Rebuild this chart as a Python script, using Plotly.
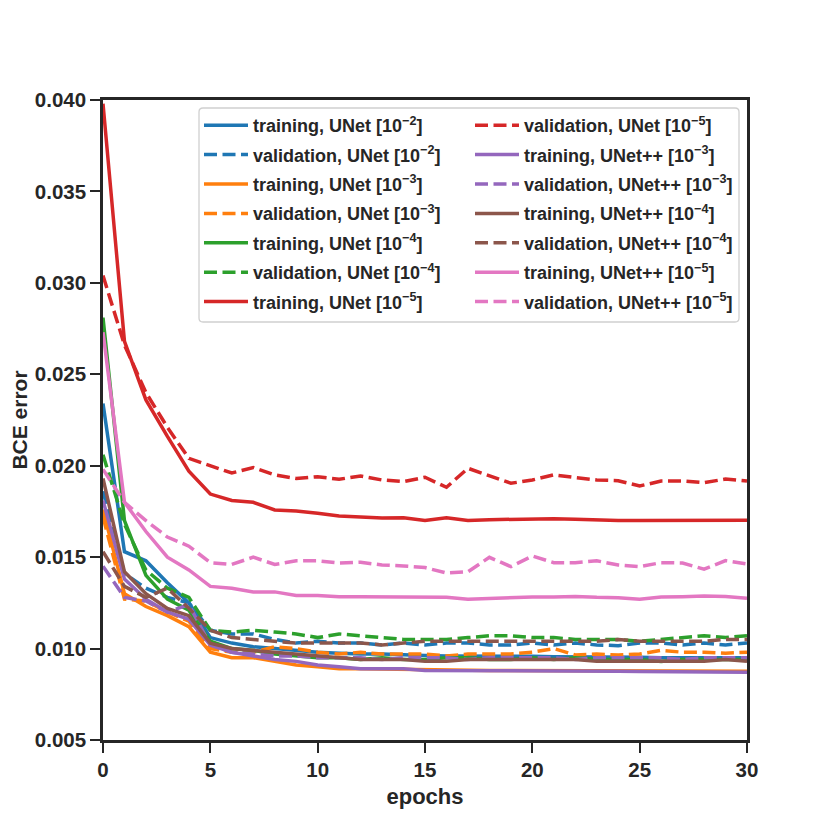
import plotly.graph_objects as go

epochs = list(range(31))

unet_e2_train = [0.0234, 0.0153, 0.0148, 0.0136, 0.0125, 0.0106, 0.0103, 0.0101, 0.0100, 0.0099, 0.0098,
                 0.00975, 0.0097, 0.0097, 0.00965, 0.00962, 0.0096, 0.0096, 0.0096, 0.00958, 0.00958,
                 0.00955, 0.00955, 0.00955, 0.00953, 0.00952, 0.0095, 0.0095, 0.0095, 0.0095, 0.0095]
unet_e2_val = [0.0186, 0.0141, 0.0133, 0.0128, 0.0125, 0.0110, 0.0108, 0.0108, 0.0105, 0.0103, 0.0104,
               0.0103, 0.0103, 0.0102, 0.0103, 0.0102, 0.0103, 0.0103, 0.0102, 0.0102, 0.0103,
               0.0102, 0.0103, 0.0102, 0.01016, 0.0103, 0.0103, 0.0102, 0.0103, 0.0102, 0.0103]
unet_e3_train = [0.0176, 0.0130, 0.0123, 0.0118, 0.0112, 0.0098, 0.0095, 0.0095, 0.0093, 0.0091, 0.0090,
                 0.0089, 0.0089, 0.00888, 0.00885, 0.00885, 0.00882, 0.0088, 0.0088, 0.0088, 0.0088,
                 0.0088, 0.0088, 0.00878, 0.00878, 0.00878, 0.00878, 0.00876, 0.00876, 0.00876, 0.00876]
unet_e3_val = [0.0172, 0.0127, 0.0126, 0.0120, 0.0115, 0.0100, 0.0098, 0.0098, 0.0101, 0.0100, 0.0098,
               0.0097, 0.0098, 0.0097, 0.0097, 0.0097, 0.0096, 0.0097, 0.0097, 0.0097, 0.0098,
               0.0100, 0.00965, 0.0097, 0.00965, 0.0097, 0.0099, 0.0098, 0.0098, 0.00975, 0.0098]
unet_e4_train = [0.0281, 0.0170, 0.0140, 0.0127, 0.0121, 0.0104, 0.0100, 0.0099, 0.0097, 0.0096, 0.0095,
                 0.0095, 0.0094, 0.0095, 0.0094, 0.0094, 0.0095, 0.0095, 0.0094, 0.0094, 0.0095,
                 0.0094, 0.0095, 0.0094, 0.0094, 0.0094, 0.0093, 0.0094, 0.0094, 0.0094, 0.0094]
unet_e4_val = [0.0206, 0.0168, 0.0143, 0.0133, 0.0128, 0.0110, 0.0109, 0.0110, 0.0109, 0.0108, 0.0106,
               0.0108, 0.0107, 0.0106, 0.0105, 0.0105, 0.0105, 0.0106, 0.0107, 0.0107, 0.0106,
               0.0106, 0.0105, 0.0105, 0.0105, 0.0104, 0.0105, 0.0106, 0.0107, 0.0106, 0.0107]
unet_e5_train = [0.0398, 0.0268, 0.0236, 0.0216, 0.0197, 0.01845, 0.0181, 0.0180, 0.01758, 0.01752, 0.0174,
                 0.01725, 0.0172, 0.01714, 0.01715, 0.0170, 0.01715, 0.0170, 0.01705, 0.01708, 0.0171,
                 0.0171, 0.01707, 0.01702, 0.0170, 0.0170, 0.0170, 0.01702, 0.0170, 0.01702, 0.01702]
unet_e5_val = [0.0304, 0.0266, 0.0240, 0.0221, 0.0204, 0.0200, 0.0196, 0.0199, 0.0195, 0.0193, 0.0194,
               0.01926, 0.01944, 0.01922, 0.01913, 0.01937, 0.01882, 0.01986, 0.01944, 0.01904, 0.01922,
               0.0195, 0.01935, 0.01922, 0.01918, 0.01889, 0.01916, 0.01916, 0.01907, 0.01927, 0.01916]
unetpp_e3_train = [0.0181, 0.0138, 0.0127, 0.0120, 0.0116, 0.0102, 0.0098, 0.0096, 0.0094, 0.0093, 0.0091,
                   0.0090, 0.0089, 0.0089, 0.0089, 0.0088, 0.0088, 0.0088, 0.0088, 0.0088, 0.00878,
                   0.00878, 0.00876, 0.00876, 0.00876, 0.00874, 0.00874, 0.00874, 0.00872, 0.00872, 0.0087]
unetpp_e3_val = [0.0145, 0.0128, 0.0126, 0.0120, 0.0124, 0.0102, 0.0098, 0.0097, 0.0096, 0.0096, 0.0095,
                 0.0095, 0.0095, 0.0094, 0.0095, 0.0095, 0.0095, 0.0094, 0.0095, 0.0095, 0.0095,
                 0.0095, 0.0094, 0.0095, 0.0095, 0.0095, 0.0095, 0.0094, 0.0095, 0.0095, 0.0095]
unetpp_e4_train = [0.0193, 0.0142, 0.0130, 0.0122, 0.0118, 0.0103, 0.0100, 0.0099, 0.0098, 0.0097, 0.0096,
                   0.0095, 0.0094, 0.0094, 0.0094, 0.0093, 0.0093, 0.0094, 0.0094, 0.0094, 0.0094,
                   0.0094, 0.0094, 0.0093, 0.0093, 0.0093, 0.0093, 0.0093, 0.0093, 0.0094, 0.0093]
unetpp_e4_val = [0.0153, 0.0134, 0.0128, 0.0133, 0.0122, 0.0110, 0.0106, 0.0105, 0.0104, 0.0103, 0.0103,
                 0.0103, 0.0103, 0.0102, 0.0103, 0.0104, 0.0104, 0.0104, 0.0104, 0.0104, 0.0104,
                 0.0104, 0.0104, 0.0104, 0.0105, 0.0104, 0.0104, 0.0104, 0.0104, 0.0105, 0.0105]
unetpp_e5_train = [0.0273, 0.0180, 0.0164, 0.0150, 0.0143, 0.0134, 0.0133, 0.0131, 0.0131, 0.0129, 0.0129,
                   0.01283, 0.01283, 0.01282, 0.01282, 0.0128, 0.0128, 0.0127, 0.01275, 0.0128, 0.01282,
                   0.01282, 0.01285, 0.0128, 0.01278, 0.0127, 0.01282, 0.01284, 0.01287, 0.01285, 0.01275]
unetpp_e5_val = [0.0198, 0.0180, 0.0170, 0.0161, 0.0156, 0.0147, 0.0146, 0.0150, 0.0146, 0.0148, 0.0148,
                 0.01468, 0.01472, 0.01457, 0.01452, 0.01443, 0.01413, 0.0142, 0.01499, 0.01448, 0.01506,
                 0.0147, 0.0147, 0.0148, 0.01457, 0.01448, 0.0147, 0.01468, 0.01434, 0.01481, 0.01463]

labels = [
    "training, UNet [10<sup>−2</sup>]", "validation, UNet [10<sup>−2</sup>]",
    "training, UNet [10<sup>−3</sup>]", "validation, UNet [10<sup>−3</sup>]",
    "training, UNet [10<sup>−4</sup>]", "validation, UNet [10<sup>−4</sup>]",
    "training, UNet [10<sup>−5</sup>]", "validation, UNet [10<sup>−5</sup>]",
    "training, UNet++ [10<sup>−3</sup>]", "validation, UNet++ [10<sup>−3</sup>]",
    "training, UNet++ [10<sup>−4</sup>]", "validation, UNet++ [10<sup>−4</sup>]",
    "training, UNet++ [10<sup>−5</sup>]", "validation, UNet++ [10<sup>−5</sup>]",
]
values = [unet_e2_train, unet_e2_val, unet_e3_train, unet_e3_val, unet_e4_train, unet_e4_val,
          unet_e5_train, unet_e5_val, unetpp_e3_train, unetpp_e3_val, unetpp_e4_train, unetpp_e4_val,
          unetpp_e5_train, unetpp_e5_val]
colors = ["#1f77b4", "#1f77b4", "#ff7f0e", "#ff7f0e", "#2ca02c", "#2ca02c", "#d62728", "#d62728",
          "#9467bd", "#9467bd", "#8c564b", "#8c564b", "#e377c2", "#e377c2"]

fig = go.Figure()
for i, (lab, vals, col) in enumerate(zip(labels, values, colors)):
    dash = "solid" if lab.startswith("training") else "13px,5.5px"
    fig.add_trace(go.Scatter(
        x=epochs, y=vals, mode="lines", name=lab,
        line=dict(color=col, width=3.5, dash=dash),
        legend="legend" if i < 7 else "legend2",
        legendgroup=f"g{i}",
    ))

# page has an 8px body margin; figure pixel = page pixel - 8
OFF = 8
W, H = 822, 822
L, T = 103 - OFF, 100 - OFF
R = W - (747 - OFF)
B = H - (740 - OFF)
pw, ph = W - L - R, H - T - B

def px(xp):
    return (xp - OFF - L) / pw

def py(yp):
    return (H - B - (yp - OFF)) / ph

# legend frame
bx0, bx1, by0, by1 = px(199), px(739), py(322), py(108)
rx, ry = 4 / pw, 4 / ph
path = (f"M {bx0+rx},{by1} L {bx1-rx},{by1} Q {bx1},{by1} {bx1},{by1-ry} "
        f"L {bx1},{by0+ry} Q {bx1},{by0} {bx1-rx},{by0} L {bx0+rx},{by0} "
        f"Q {bx0},{by0} {bx0},{by0+ry} L {bx0},{by1-ry} Q {bx0},{by1} {bx0+rx},{by1} Z")
fig.add_shape(type="path", path=path, xref="paper", yref="paper",
              line=dict(color="#d0d0d0", width=1.3), fillcolor="white", layer="below")

axis_color = "#262626"
common_axis = dict(
    showline=True, linewidth=2.5, linecolor=axis_color, mirror=True,
    ticks="outside", ticklen=10, tickwidth=2, tickcolor=axis_color,
    showgrid=False, zeroline=False, automargin=False,
    tickfont=dict(size=20.5, color=axis_color, weight="bold"),
)

leg_common = dict(
    xanchor="left", yanchor="top", bgcolor="rgba(0,0,0,0)", borderwidth=0,
    font=dict(size=18, color=axis_color, weight="bold"),
    itemwidth=44, tracegroupgap=3, traceorder="grouped",
)

fig.update_layout(
    width=W, height=H, autosize=False,
    margin=dict(l=L, r=R, t=T, b=B, pad=0),
    plot_bgcolor="white", paper_bgcolor="white",
    font=dict(family="Liberation Sans, Arial, sans-serif", size=20, color=axis_color, weight="bold"),
    xaxis=dict(range=[0, 30], tick0=0, dtick=5,
               title=dict(text="epochs", standoff=9, font=dict(size=22, weight="bold")),
               **common_axis),
    yaxis=dict(range=[0.005, 0.040], tick0=0.005, dtick=0.005, tickformat=".3f",
               title=dict(text="BCE error", standoff=23, font=dict(size=21, weight="bold")),
               **common_axis),
    legend=dict(x=px(199), y=py(107), **leg_common),
    legend2=dict(x=px(470), y=py(107), **leg_common),
    showlegend=True,
)

fig.write_html("out.html")
